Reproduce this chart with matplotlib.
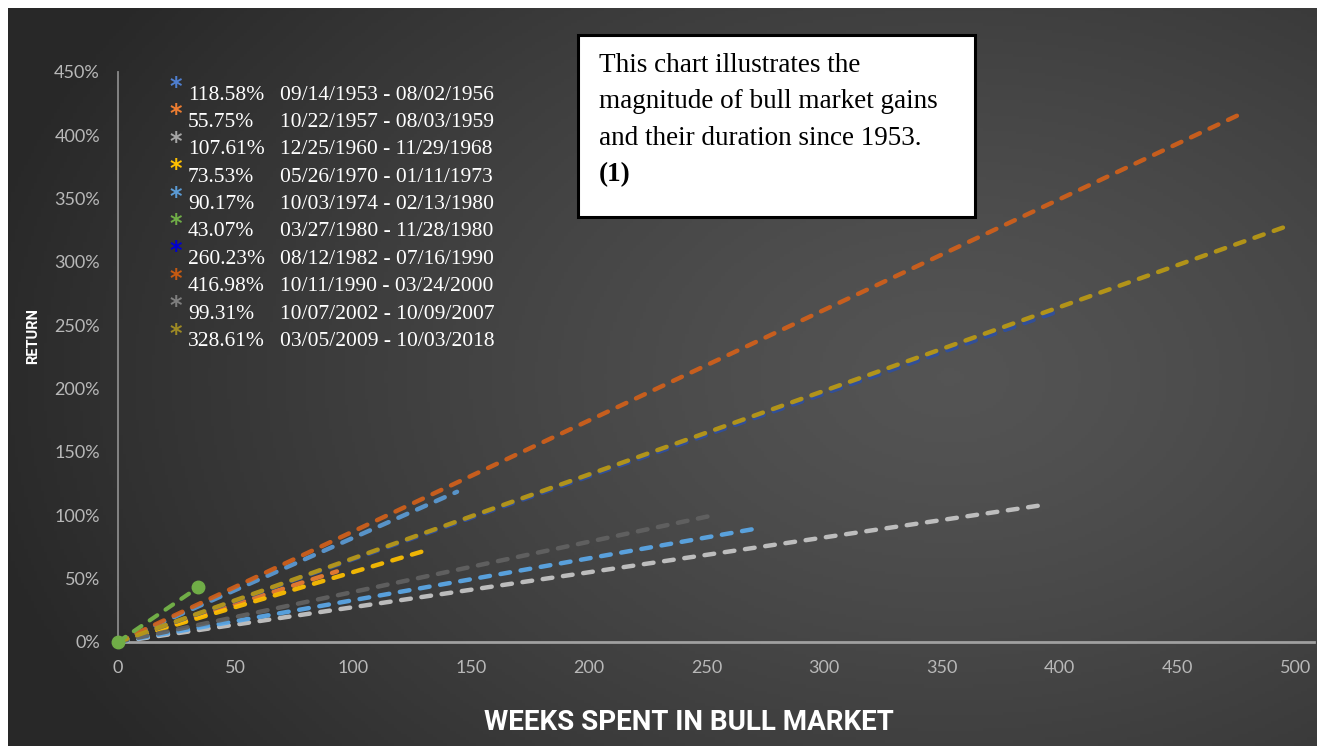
import numpy as np
import matplotlib.pyplot as plt

# bull markets since 1953: total return (%) and length (weeks)
returns = [118.58, 55.75, 107.61, 73.53, 90.17, 43.07, 260.23, 416.98, 99.31, 328.61]
weeks = [144, 93, 391, 133, 273, 34, 398, 477, 251, 497]
start_dates = ['09/14/1953', '10/22/1957', '12/25/1960', '05/26/1970', '10/03/1974',
               '03/27/1980', '08/12/1982', '10/11/1990', '10/07/2002', '03/05/2009']
end_dates = ['08/02/1956', '08/03/1959', '11/29/1968', '01/11/1973', '02/13/1980',
             '11/28/1980', '07/16/1990', '03/24/2000', '10/09/2007', '10/03/2018']
line_colors = ['#5b9bd5', '#ed7d31', '#c8c8c8', '#ffc000', '#5ba9ea',
               '#70ad47', '#2f4f9f', '#d2601a', '#626262', '#bb9a14']
star_colors = ['#4f7fd0', '#ed7d31', '#a5a5a5', '#ffc000', '#5b9bd5',
               '#70ad47', '#0000d0', '#c55a11', '#7f7f7f', '#9e8a24']
yticks = [0, 50, 100, 150, 200, 250, 300, 350, 400, 450]
xticks = [0, 50, 100, 150, 200, 250, 300, 350, 400, 450, 500]

W, H = 1317, 746
fig = plt.figure(figsize=(W / 100, H / 100), dpi=100, facecolor='white')

# dark radial background (screenshot has a white strip top and left)
bg = fig.add_axes([8 / W, 0, 1 - 8 / W, 1 - 8 / H])
gx, gy = np.meshgrid(np.linspace(0, 1, 400), np.linspace(0, 1, 240))
d = np.sqrt(((gx - 0.72) / 0.75) ** 2 + ((gy - 0.5) / 0.9) ** 2)
shade = 0.33 - 0.17 * np.clip(d, 0, 1) ** 1.3
bg.imshow(np.dstack([shade] * 3), aspect='auto', extent=[0, 1, 0, 1])
bg.axis('off')

ax = fig.add_axes([118 / W, 1 - 642 / H, (1314 - 118) / W, (642 - 72) / H])
ax.patch.set_alpha(0)
for i in range(len(returns)):
    kw = dict(color=line_colors[i], lw=3.2, dashes=(2.2, 2.4),
              dash_capstyle='round', alpha=0.92, clip_on=False, zorder=3)
    if i == 5:
        kw.update(marker='o', ms=9, lw=3, zorder=5, alpha=1)
    ax.plot([0, weeks[i]], [0, returns[i]], **kw)

ax.set_xlim(0, 508)
ax.set_ylim(0, 450)
ax.set_xticks(xticks)
ax.set_yticks(yticks)
ax.set_yticklabels([f'{v}%' for v in yticks])
ax.tick_params(length=0, colors='#b8b8b8', labelsize=13)
ax.tick_params(axis='x', pad=13)
ax.tick_params(axis='y', pad=13)
for lab in ax.get_xticklabels() + ax.get_yticklabels():
    lab.set_fontfamily('Lato')
for s in ['top', 'right']:
    ax.spines[s].set_visible(False)
ax.spines['left'].set_color('#8a8a8a')
ax.spines['left'].set_linewidth(1.3)
ax.spines['bottom'].set_color('#a0a0a0')
ax.spines['bottom'].set_linewidth(2)

fig.text(33 / W, 1 - 336 / H, 'RETURN', rotation=90, color='white', fontsize=10.5,
         fontweight='bold', family='Roboto', ha='center', va='center')
fig.text(689 / W, 1 - 722 / H, 'WEEKS SPENT IN BULL MARKET', color='white', fontsize=20,
         fontweight='bold', family='Roboto', ha='center', va='center')

# hand-made legend
for i in range(len(returns)):
    yc = 1 - (95 + 27.4 * i) / H
    fig.text(176 / W, yc + 8 / H, '*', color=star_colors[i], fontsize=17,
             family='DejaVu Sans', ha='center', va='center', fontweight='bold')
    fig.text(188 / W, yc, f'{returns[i]:.2f}%', color='white', fontsize=15.5,
             family='Liberation Serif', va='center')
    fig.text(280 / W, yc, f'{start_dates[i]} - {end_dates[i]}', color='white', fontsize=15.5,
             family='Liberation Serif', va='center')

# note box
box = plt.Rectangle((578 / W, 1 - 217 / H), (975 - 578) / W, (217 - 35) / H,
                    transform=fig.transFigure, facecolor='white', edgecolor='black',
                    lw=2.2, zorder=10)
fig.add_artist(box)
note = ['This chart illustrates the', 'magnitude of bull market gains',
        'and their duration since 1953.', '(1)']
for j, line in enumerate(note):
    fig.text(599 / W, 1 - (65 + 36.7 * j) / H, line, color='black', fontsize=19.5,
             family='Liberation Serif', va='center', zorder=11,
             fontweight='bold' if j == 3 else 'normal')

fig.savefig('out.png', dpi=100, facecolor=fig.get_facecolor())
